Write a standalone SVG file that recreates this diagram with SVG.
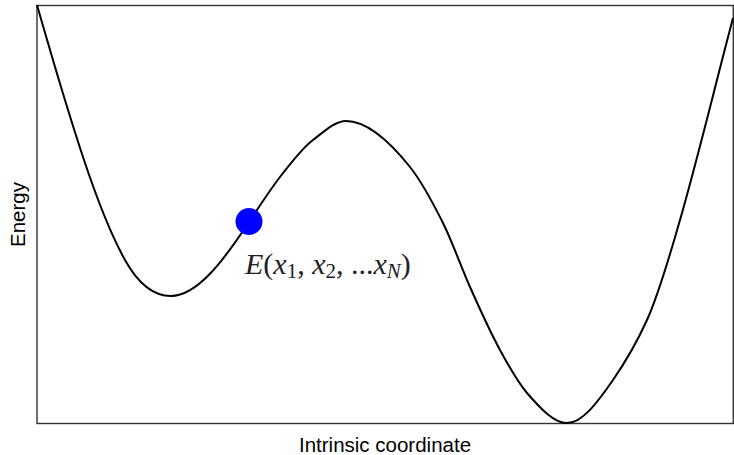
<svg xmlns="http://www.w3.org/2000/svg" width="734" height="455" viewBox="0 0 734 455">
<style>
.frame{fill:none;stroke:#333;stroke-width:1.4}
.curve{fill:none;stroke:#000;stroke-width:2}
.axis{font-family:"Liberation Sans",Arial,sans-serif;font-size:20.5px;fill:#000}
.math{font-family:"Liberation Serif","Times New Roman",serif;font-size:30px;fill:#222}
.it{font-style:italic}
.sub{font-size:21px}
</style>
<rect width="734" height="455" fill="#fff"/>
<g id="frame"><rect class="frame" x="37" y="5.5" width="696.3" height="418"/></g>
<g id="connectors">
<path class="curve" d="M37,5 C52.7,59.8 68.3,113 84,160 C97.7,201 111.3,235.4 125,260 C140.3,287.6 155.7,296 171,296 C197,296 223,261.5 249,222 C259.3,206.3 269.7,190.4 280,177 C291,162.7 302,148.25 313,140 C324,131.75 335,121 346,121 C367.3,121 388.7,140.3 410,167 C421,180.75 432,201 443,223 C452,241 461,266.75 470,287 C480,309.5 490,331.5 500,350 C509,366.65 518,382.65 527,393 C540.3,408.3 553.7,423 567,423 C582.3,423 597.7,402.2 613,380 C624.3,363.6 635.7,344.9 647,320 C658,295.8 669,258.5 680,220 C697.7,158.2 715.3,85.1 733,18"/>
</g>
<g id="state">
<circle cx="249" cy="221.5" r="13.5" fill="#0000ff"/>
<text class="math" x="245" y="273.5"><tspan class="it">E</tspan>(<tspan class="it">x</tspan><tspan class="sub" dy="4">1</tspan><tspan dy="-4">, </tspan><tspan class="it">x</tspan><tspan class="sub" dy="4">2</tspan><tspan dy="-4">, ...</tspan><tspan class="it">x</tspan><tspan class="it sub" dy="4">N</tspan><tspan dy="-4">)</tspan></text>
</g>
<g id="labels">
<text class="axis" x="385" y="452" text-anchor="middle">Intrinsic coordinate</text>
<text class="axis" transform="translate(24.5,214.5) rotate(-90)" text-anchor="middle">Energy</text>
</g>
</svg>
